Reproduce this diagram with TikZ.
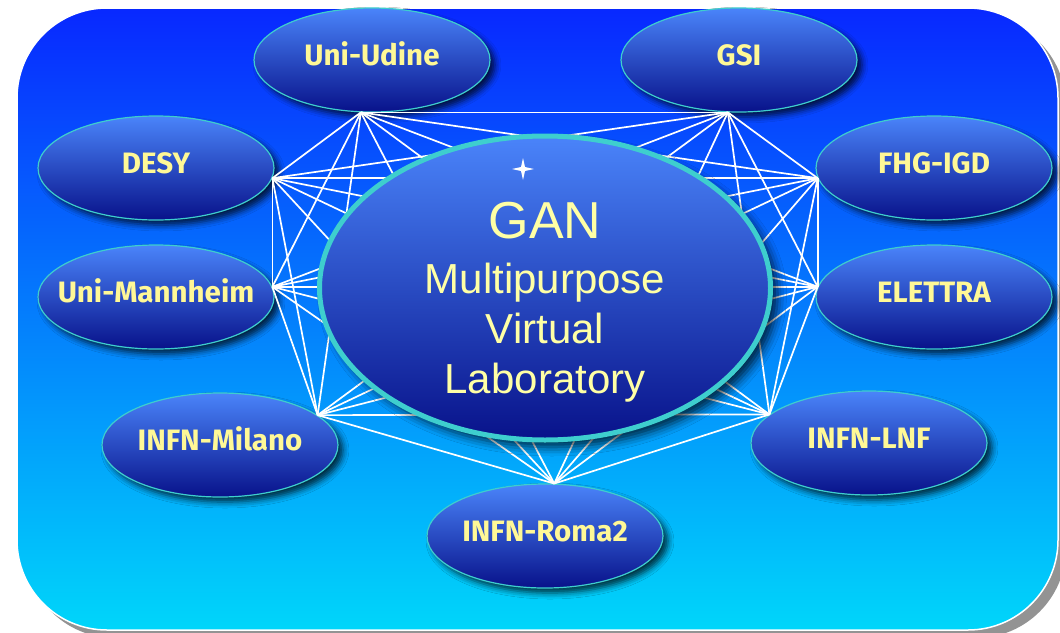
\documentclass[tikz,border=0pt]{standalone}
\usepackage{fontspec}
\setmainfont{Liberation Sans}
\newfontfamily\sitefont{Fira Sans}
\usetikzlibrary{shapes.geometric,shadows.blur}

\definecolor{bgTop}{RGB}{8,40,255}
\definecolor{bgBottom}{RGB}{0,214,250}
\definecolor{nodeTop}{RGB}{74,132,250}
\definecolor{nodeBottom}{RGB}{8,18,138}
\definecolor{rim}{RGB}{62,206,206}
\definecolor{siteText}{RGB}{255,248,150}
\definecolor{ganText}{RGB}{255,255,165}

\tikzset{
  site/.style={ellipse, minimum width=236pt, minimum height=104pt,
    inner xsep=-25pt, inner ysep=0pt,
    top color=nodeTop, bottom color=nodeBottom, draw=rim, line width=1.2pt,
    blur shadow={shadow xshift=5pt, shadow yshift=-5pt, shadow blur radius=6pt, shadow opacity=75},
    text=siteText, font=\sitefont\bfseries\fontsize{29.5}{31}\selectfont,
    text height=21pt, text depth=10pt},
  hub/.style={ellipse, minimum width=451pt, minimum height=304pt,
    top color=nodeTop, bottom color=nodeBottom, draw=rim, line width=5pt,
    blur shadow={shadow xshift=7pt, shadow yshift=-7pt, shadow blur radius=9pt, shadow opacity=75}},
  link/.style={white, line width=1.7pt}
}

\begin{document}
\begin{tikzpicture}[x=1pt,y=-1pt]
  \useasboundingbox (0,0) rectangle (1060,632);

  % backdrop with its shadow
  \fill[gray!85, rounded corners=90pt] (25,16) rectangle (1066,638);
  \draw[white, line width=1.5pt, top color=bgTop, bottom color=bgBottom,
        rounded corners=90pt] (17,8) rectangle (1058,630);

  % partner sites
  \node[site] (udine)    at (372,60)  {Uni-Udine};
  \node[site] (gsi)      at (739,60)  {GSI};
  \node[site] (desy)     at (156,168) {DESY};
  \node[site] (fhg)      at (934,168) {FHG-IGD};
  \node[site] (mannheim) at (156,297) {Uni-Mannheim};
  \node[site] (elettra)  at (934,297) {ELETTRA};
  \node[site] (milano)   at (220,445) {INFN-Milano};
  \node[site] (lnf)      at (869,443) {INFN-LNF};
  \node[site] (roma)     at (545,536) {INFN-Roma2};

  % every site linked to every other one
  \def\ports{udine.258,gsi.258,fhg.185,elettra.175,lnf.164,roma.80,milano.17,mannheim.5,desy.-5}
  \foreach \p [count=\i] in \ports {
    \foreach \q [count=\j] in \ports {
      \ifnum\j>\i \draw[link] (\p) -- (\q); \fi
    }
  }

  % the laboratory in the middle
  \node[hub] (gan) at (545,288) {};
  \node[text=ganText, align=center, font=\fontsize{42}{50}\selectfont]
    (ganlabel) at (545,302) {{\fontsize{52}{55}\selectfont GAN}\\[5pt]Multipurpose\\Virtual\\Laboratory};
  \fill[white] (523,158) -- (525,167) -- (534,169) -- (525,171) -- (523,180)
    -- (521,171) -- (512,169) -- (521,167) -- cycle;
\end{tikzpicture}
\end{document}
